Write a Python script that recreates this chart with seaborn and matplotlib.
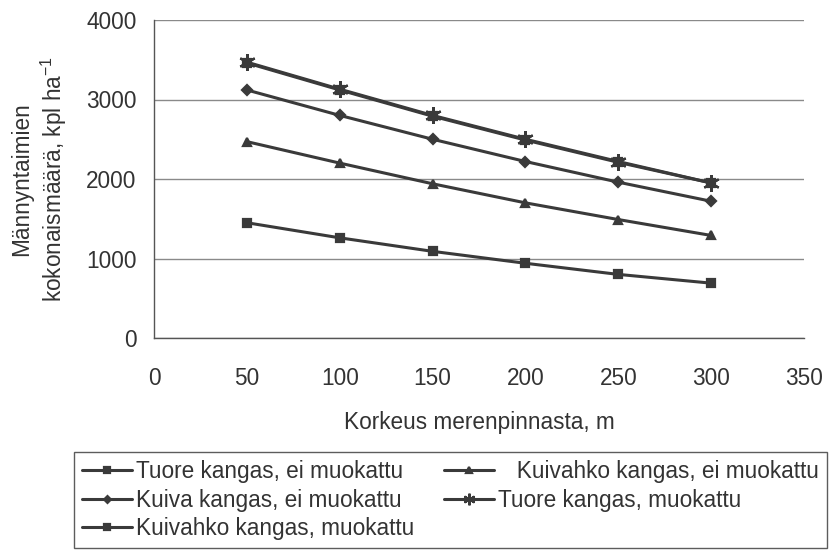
import matplotlib
matplotlib.use("Agg")
import matplotlib.pyplot as plt
import seaborn as sns
import pandas as pd

# altitude (m) and seedling counts (kpl/ha)
korkeus = [50, 100, 150, 200, 250, 300]
tuore_ei = [1450, 1260, 1090, 940, 800, 690]
kuivahko_ei = [2470, 2200, 1940, 1700, 1490, 1290]
kuiva_ei = [3120, 2800, 2500, 2220, 1960, 1720]
tuore_muok = [3470, 3130, 2800, 2500, 2220, 1950]
kuivahko_muok = [3460, 3120, 2790, 2490, 2210, 1950]

labels = [
    "Tuore kangas, ei muokattu",
    "   Kuivahko kangas, ei muokattu",
    "Kuiva kangas, ei muokattu",
    "Tuore kangas, muokattu",
    "Kuivahko kangas, muokattu",
]

sns.set_theme(style="white")
plt.rcParams.update({
    "font.family": ["Liberation Sans", "DejaVu Sans"],
    "mathtext.fontset": "custom",
    "mathtext.rm": "Liberation Sans",
    "mathtext.it": "Liberation Sans",
    "text.color": "#333333",
    "axes.labelcolor": "#333333",
    "xtick.color": "#333333",
    "ytick.color": "#333333",
})

FS = 16.3

fig = plt.figure(figsize=(8.38, 5.59), dpi=100)
ax = fig.add_axes([154 / 838, 1 - 338 / 559, 650 / 838, 318 / 559])

line_col = "#3a3a3a"
series = [
    (tuore_ei, "s", 6),
    (kuivahko_ei, "^", 6),
    (kuiva_ei, "D", 5),
    (tuore_muok, (6, 2, 0), 12),
    (kuivahko_muok, "s", 6),
]
handles = []
for (vals, mk, ms), lab in zip(series, labels):
    df = pd.DataFrame({"x": korkeus, "y": vals})
    sns.lineplot(data=df, x="x", y="y", ax=ax, color=line_col, marker=mk,
                 markersize=ms, markeredgecolor=line_col, markeredgewidth=1.6,
                 linewidth=2.2, label=lab, legend=False)
    handles.append(ax.lines[-1])

ax.set_xlim(0, 350)
ax.set_ylim(0, 4000)
ax.set_xticks(range(0, 351, 50))
ax.set_yticks(range(0, 4001, 1000))
ax.yaxis.grid(True, color="#8a8a8a", linewidth=1)
ax.set_axisbelow(True)
for s in ["top", "right"]:
    ax.spines[s].set_visible(False)
for s in ["left", "bottom"]:
    ax.spines[s].set_color("#555555")
    ax.spines[s].set_linewidth(1)
ax.tick_params(axis="x", labelsize=FS, direction="out", length=5,
               width=1, color="#555555", pad=16)
ax.tick_params(axis="y", labelsize=FS, direction="inout", length=9,
               width=1, color="#555555", pad=8)

ax.set_xlabel("Korkeus merenpinnasta, m", fontsize=FS, labelpad=15)
ax.set_ylabel("Männyntaimien\nkokonaismäärä, kpl ha$^{-1}$", fontsize=FS,
              labelpad=12, linespacing=1.25)

order = [0, 2, 4, 1, 3]
leg = fig.legend([handles[i] for i in order], [labels[i] for i in order],
                 loc="upper left", bbox_to_anchor=(74 / 838, 1 - 452 / 559),
                 ncol=2, fontsize=FS, frameon=True, fancybox=False,
                 markerscale=0.7, handlelength=2.2, handletextpad=0.2,
                 labelspacing=0.25, columnspacing=1.3, borderpad=0.35,
                 borderaxespad=0)
leg.get_frame().set_edgecolor("#333333")
leg.get_frame().set_linewidth(1)

fig.savefig("out.png", dpi=100)
